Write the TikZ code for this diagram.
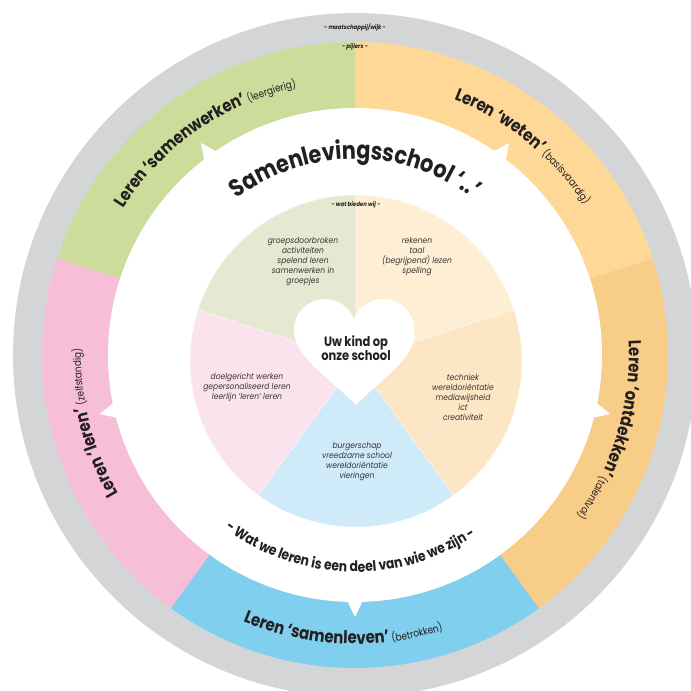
\documentclass[tikz,border=0pt]{standalone}
\usepackage{fontspec}
\setmainfont{Poppins}
\newfontfamily\fut{Poppins}[FakeStretch=0.85]
\newfontfamily\pief{Poppins}[FakeStretch=0.9]
\usetikzlibrary{decorations.text}
\definecolor{ringgray}{HTML}{D4D5D7}
\definecolor{rgreen}{HTML}{CBDC9B}
\definecolor{rweten}{HTML}{FED896}
\definecolor{rontd}{HTML}{F8CD88}
\definecolor{rblue}{HTML}{80CFEF}
\definecolor{rpink}{HTML}{F6BED7}
\definecolor{pgreen}{HTML}{E5E9D1}
\definecolor{pweten}{HTML}{FEEFD4}
\definecolor{pontd}{HTML}{FCE6C5}
\definecolor{pblue}{HTML}{CFEAF9}
\definecolor{ppink}{HTML}{FBE3EE}
\definecolor{ink}{HTML}{231F20}
\newcommand\ringfont{\fut\bfseries\fontsize{17.5}{17.5}\selectfont}
\newcommand\ringsmall{\fut\fontsize{10.5}{10.5}\selectfont}
\newcommand\titlefont{\fut\bfseries\fontsize{24.5}{24.5}\selectfont}
\newcommand\mottofont{\fut\bfseries\fontsize{14.5}{14.5}\selectfont}
\begin{document}
\begin{tikzpicture}[x=1pt,y=1pt,
  pietext/.style={align=center, text=ink!90, font={\pief\itshape\fontsize{8.4}{10}\selectfont}},
  tinylabel/.style={text=ink, font={\pief\bfseries\itshape\fontsize{6}{7}\selectfont}},
  dotline/.style={white, line width=1.3pt, line cap=round, dash pattern=on 0pt off 2.7pt},
  curved/.style={decorate, decoration={text along path, text align=center, text color=ink}}]
\useasboundingbox (-355,-336) rectangle (336,355);
\clip (-355,-336) rectangle (336,355);
% outer gray ring
\fill[ringgray] (0,0) circle[radius=342];
% coloured pillars
\foreach \a/\b/\c in {90/162/rgreen, 162/234/rpink, 234/306/rblue, -54/18/rontd, 18/90/rweten}
  \fill[\c] (0,0) -- (\a:313) arc[start angle=\a, end angle=\b, radius=313] -- cycle;
\fill[white] (0,0) circle[radius=247];
% pointers
\foreach \p in {126,54,347,270,193}
  \fill[white] (\p-1.8:246) -- (\p:262) -- (\p+1.8:246) -- cycle;
% inner pie
\coordinate (pc) at (1,-6);
\foreach \a/\b/\c in {90/162/pgreen, 162/234/ppink, 234/306/pblue, -54/18/pontd, 18/90/pweten}
  \fill[\c] (pc) -- ++(\a:166) arc[start angle=\a, end angle=\b, radius=166] -- cycle;
\draw[dotline] (pc) circle[radius=166];
\foreach \a in {90,162,234,306,18}
  \draw[dotline] (pc) -- ++(\a:166);
% heart
\fill[white] (1,-50) .. controls (-24,-24) and (-61,-2) .. (-61,25)
  arc[start angle=180, end angle=20, radius=31]
  arc[start angle=160, end angle=0, radius=31]
  .. controls (63,-2) and (26,-24) .. (1,-50) -- cycle;
\node[align=center, text=ink, font={\fut\bfseries\fontsize{13.5}{14}\selectfont}] (heart) at (1,7) {Uw kind op\\onze school};
% pie texts
\node[pietext] (tgreen) at (-52,93) {groepsdoorbroken\\activiteiten\\spelend leren\\samenwerken in\\groepjes};
\node[pietext] (tweten) at (62,98) {rekenen\\taal\\(begrijpend) lezen\\spelling};
\node[pietext] (tpink) at (-108,-32) {doelgericht werken\\gepersonaliseerd leren\\leerlijn ‘leren’ leren};
\node[pietext] (tontd) at (108,-42) {techniek\\wereldoriëntatie\\mediawijsheid\\ict\\creativiteit};
\node[pietext] (tblue) at (2,-107) {burgerschap\\vreedzame school\\wereldoriëntatie\\vieringen};
% tiny labels
\node[tinylabel] (wat) at (1,150) {- wat bieden wij -};
\node[tinylabel] (maat) at (0,328) {- maatschappij/wijk -};
\node[tinylabel] (pijl) at (0,308) {- pijlers -};
% curved title and motto
\path[curved, decoration={text={|\titlefont|Samenlevingsschool ‘..’}}]
  (150:196) arc[start angle=150, end angle=30, radius=196];
\path[curved, decoration={text={|\mottofont|- Wat we leren is een deel van wie we zijn -}}]
  (208.5:217) arc[start angle=208.5, end angle=328.5, radius=217];
% ring labels
\path[curved, decoration={text={|\ringfont|Leren ‘samenwerken’|\ringsmall| (leergierig)}}]
  (175:274) arc[start angle=175, end angle=75, radius=274];
\path[curved, decoration={text={|\ringfont|Leren ‘weten’|\ringsmall| (basisvaardig)}}]
  (101:274) arc[start angle=101, end angle=1, radius=274];
\path[curved, decoration={text={|\ringfont|Leren ‘ontdekken’|\ringsmall| (talentvol)}}]
  (33.5:274) arc[start angle=33.5, end angle=-66.5, radius=274];
\path[curved, decoration={text={|\ringfont|Leren ‘leren’|\ringsmall| (zelfstandig)}}]
  (244.5:274) arc[start angle=244.5, end angle=144.5, radius=274];
\path[curved, decoration={text={|\ringfont|Leren ‘samenleven’|\ringsmall| (betrokken)}}]
  (217.5:289) arc[start angle=217.5, end angle=317.5, radius=289];
\end{tikzpicture}
\end{document}
